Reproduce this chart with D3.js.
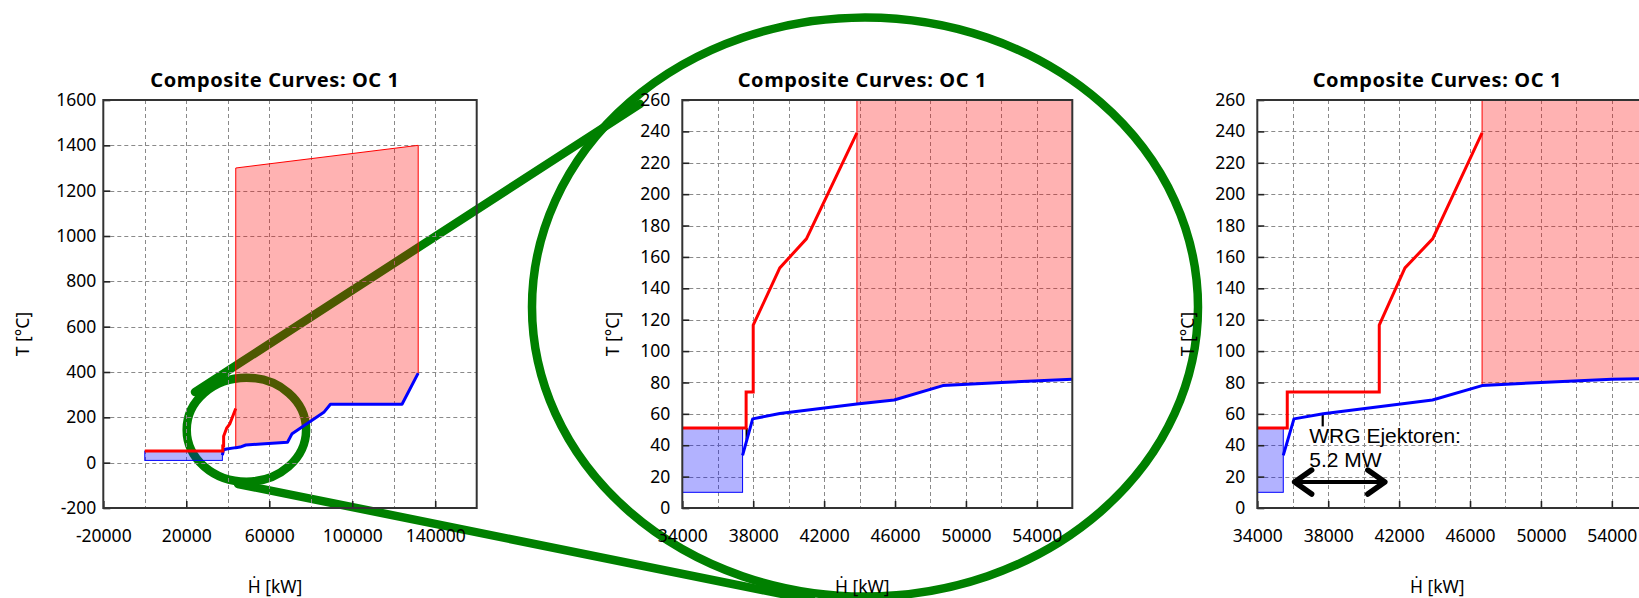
<!DOCTYPE html>
<html>
<head>
<meta charset="utf-8">
<script src="https://cdn.jsdelivr.net/npm/d3@7"></script>
<style>
  html, body { margin: 0; padding: 0; background: #fff; }
  svg { display: block; font-family: "Noto Sans", "DejaVu Sans", sans-serif; }
</style>
</head>
<body>
<svg id="fig" width="1639" height="598"></svg>
<script>
// ---------------- data ----------------
const titleText = "Composite Curves: OC 1";
const xLabelText = "Ḣ [kW]";
const yLabelText = "T [°C]";

// Operating case 1: hot and cold composite curves (heat flow in kW, temperature in °C)
const hotH  = [0, 37600, 37600, 38000, 38000, 39500, 41000, 43850];
const hotT  = [51, 51, 74, 74, 116.5, 153, 171.5, 239];
const coldH = [37400, 37970, 39500, 43850, 45950, 48700, 52000, 56000, 68800, 71000, 86500, 89500, 124000, 131800];
const coldT = [33.5, 56.8, 60.2, 66.3, 68.8, 78, 80, 82, 90, 128, 224, 258, 258, 395];
// hot utility band (upper edge) and cold utility block
const hotUtilH  = [43850, 131800];
const hotUtilT  = [1300, 1400];
const coldUtilH = [0, 37400];
const coldUtilT = [10, 51];
// pinch marker
const pinchH = [37630, 37630];
const pinchT = [51, 43.5];

// Operating case 1 with ejector heat recovery
const hotRecH  = [0, 35690, 35690, 40880, 40880, 42330, 43890, 46680];
const hotRecT  = [51, 51, 74, 74, 116.5, 153, 171.5, 239];
const coldRecH = [35465, 36068, 37718, 43882, 46680, 50000, 54000, 58000];
const coldRecT = [33.5, 56.8, 60.1, 68.8, 78, 80, 82, 83];
const hotUtilRecH  = [46680, 134630];
const hotUtilRecT  = [1300, 1400];
const coldUtilRecH = [0, 35465];
const coldUtilRecT = [10, 51];
const leaderH = [37690, 37690];
const leaderT = [60, 52];
const recoveryH = [36050, 41250];   // 5.2 MW
const recoveryT = 16.5;
const recoveryLabel = ["WRG Ejektoren:", "5.2 MW"];
const recoveryLabelH = 36930;
const recoveryLabelT = [41.6, 25.9];

// axis ticks
const fullXTicks = [-20000, 20000, 60000, 100000, 140000];
const fullXGrid  = [0, 20000, 40000, 60000, 80000, 100000, 120000, 140000];
const fullYTicks = [-200, 0, 200, 400, 600, 800, 1000, 1200, 1400, 1600];
const zoomXTicks = [34000, 38000, 42000, 46000, 50000, 54000];
const zoomXGrid  = [36000, 38000, 40000, 42000, 44000, 46000, 48000, 50000, 52000, 54000];
const zoomYTicks = [0, 20, 40, 60, 80, 100, 120, 140, 160, 180, 200, 220, 240, 260];

// ---------------- layout ----------------
const svg = d3.select("#fig");
const PLOT_TOP = 100, PLOT_BOTTOM = 508;
const CALLOUT = "#008000";
const FONT = '"Noto Sans", "DejaVu Sans", sans-serif';
const plainNumber = d => String(d);

// magnifier callout (drawn underneath the charts)
const callout = svg.append("g").attr("fill", "none").attr("stroke", CALLOUT)
  .attr("stroke-width", 8.5).attr("stroke-linecap", "round");
callout.append("ellipse").attr("cx", 246.4).attr("cy", 429.7).attr("rx", 59.7).attr("ry", 52);
callout.append("ellipse").attr("cx", 865).attr("cy", 307).attr("rx", 333).attr("ry", 289.5);
callout.append("line").attr("x1", 195).attr("y1", 392).attr("x2", 640).attr("y2", 104);
callout.append("line").attr("x1", 238).attr("y1", 484).attr("x2", 812).attr("y2", 600);

const zip = (xs, ys) => xs.map((v, i) => [v, ys[i]]);

function drawPanel(id, cfg) {
  const x = d3.scaleLinear().domain(cfg.xDomain).range(cfg.xRange);
  const y = d3.scaleLinear().domain(cfg.yDomain).range([PLOT_BOTTOM, PLOT_TOP]);
  const g = svg.append("g");
  const [x0, x1] = cfg.xRange;

  svg.append("clipPath").attr("id", "clip-" + id)
    .append("rect").attr("x", x0).attr("y", PLOT_TOP)
    .attr("width", x1 - x0).attr("height", PLOT_BOTTOM - PLOT_TOP);

  // grid
  const grid = g.append("g").attr("stroke", "#8a8a8a").attr("stroke-width", 1)
    .attr("stroke-dasharray", "4,3");
  grid.selectAll(".gx").data(cfg.xGrid).join("line")
    .attr("x1", d => Math.round(x(d)) + 0.5).attr("x2", d => Math.round(x(d)) + 0.5)
    .attr("y1", PLOT_TOP).attr("y2", PLOT_BOTTOM);
  grid.selectAll(".gy").data(cfg.yTicks.slice(1, -1)).join("line")
    .attr("y1", d => Math.round(y(d)) + 0.5).attr("y2", d => Math.round(y(d)) + 0.5)
    .attr("x1", x0).attr("x2", x1);

  const plot = g.append("g").attr("clip-path", `url(#clip-${id})`);
  const line = d3.line().x(d => x(d[0])).y(d => y(d[1]));

  // cold utility block
  const cu = cfg.coldUtil;
  plot.append("rect")
    .attr("x", x(cu.h[0])).attr("y", y(cu.t[1]))
    .attr("width", x(cu.h[1]) - x(cu.h[0])).attr("height", y(cu.t[0]) - y(cu.t[1]))
    .attr("fill", "rgba(0,0,255,0.3)").attr("stroke", "#0000ff").attr("stroke-width", 1);

  // hot utility band: upper edge then back along the cold composite curve
  const hu = cfg.hotUtil;
  const cold = zip(cfg.cold.h, cfg.cold.t);
  const below = cold.filter(d => d[0] >= hu.h[0] && d[0] <= hu.h[1]).reverse();
  const band = [[hu.h[0], hu.t[0]], [hu.h[1], hu.t[1]], ...below];
  plot.append("path").attr("d", line(band) + "Z")
    .attr("fill", "rgba(255,0,0,0.3)").attr("stroke", "#ff0000").attr("stroke-width", 1);

  // pinch / leader marker
  plot.append("path").attr("d", line(zip(cfg.marker.h, cfg.marker.t)))
    .attr("stroke", "#000").attr("stroke-width", 2.2).attr("fill", "none");

  // composite curves
  plot.append("path").attr("d", line(cold))
    .attr("fill", "none").attr("stroke", "#0000ff").attr("stroke-width", 3)
    .attr("stroke-linejoin", "round");
  plot.append("path").attr("d", line(zip(cfg.hot.h, cfg.hot.t)))
    .attr("fill", "none").attr("stroke", "#ff0000").attr("stroke-width", 3)
    .attr("stroke-linejoin", "miter");

  // axes
  const ax = g.append("g").attr("transform", `translate(0,${PLOT_BOTTOM})`)
    .call(d3.axisBottom(x).tickValues(cfg.xTicks).tickFormat(plainNumber)
      .tickSizeInner(-7).tickSizeOuter(0).tickPadding(22));
  const ay = g.append("g").attr("transform", `translate(${x0},0)`)
    .call(d3.axisLeft(y).tickValues(cfg.yTicks).tickFormat(plainNumber)
      .tickSizeInner(-7).tickSizeOuter(0).tickPadding(cfg.yPad));
  [ax, ay].forEach(a => {
    a.select(".domain").remove();
    a.attr("font-family", null).attr("font-size", null);
    a.selectAll(".tick line").attr("stroke", "#222").attr("stroke-width", 1.6);
    a.selectAll(".tick text").style("font-size", "17.5px")
      .style("font-family", FONT).attr("fill", "#000");
  });

  g.append("rect").attr("x", x0).attr("y", PLOT_TOP)
    .attr("width", x1 - x0).attr("height", PLOT_BOTTOM - PLOT_TOP)
    .attr("fill", "none").attr("stroke", "#333").attr("stroke-width", 2);

  // titles
  const cx = (x0 + x1) / 2 - 15;
  g.append("text").attr("x", cx).attr("y", 87).attr("text-anchor", "middle")
    .style("font-size", "20px").style("font-weight", "bold").style("letter-spacing", "0.6px")
    .text(titleText);
  g.append("text").attr("x", cx).attr("y", 593).attr("text-anchor", "middle")
    .style("font-size", "17.5px").text(xLabelText);
  g.append("text").attr("transform", `translate(${x0 - cfg.yLabelGap},334) rotate(-90)`)
    .attr("text-anchor", "middle").attr("dominant-baseline", "central")
    .style("font-size", "17.5px").text(yLabelText);

  return { x, y, g };
}

drawPanel("full", {
  xDomain: [-20000, 160000], xRange: [103.3, 476.7], yDomain: [-200, 1600],
  xTicks: fullXTicks, xGrid: fullXGrid, yTicks: fullYTicks, yPad: 7, yLabelGap: 81,
  hot: { h: hotH, t: hotT }, cold: { h: coldH, t: coldT },
  hotUtil: { h: hotUtilH, t: hotUtilT }, coldUtil: { h: coldUtilH, t: coldUtilT },
  marker: { h: pinchH, t: pinchT }
});

drawPanel("zoom", {
  xDomain: [34000, 56000], xRange: [682.3, 1072.3], yDomain: [0, 260],
  xTicks: zoomXTicks, xGrid: zoomXGrid, yTicks: zoomYTicks, yPad: 12, yLabelGap: 70.6,
  hot: { h: hotH, t: hotT }, cold: { h: coldH, t: coldT },
  hotUtil: { h: hotUtilH, t: hotUtilT }, coldUtil: { h: coldUtilH, t: coldUtilT },
  marker: { h: pinchH, t: pinchT }
});

const rec = drawPanel("rec", {
  xDomain: [34000, 56000], xRange: [1257.3, 1647.3], yDomain: [0, 260],
  xTicks: zoomXTicks, xGrid: zoomXGrid, yTicks: zoomYTicks, yPad: 12, yLabelGap: 70.6,
  hot: { h: hotRecH, t: hotRecT }, cold: { h: coldRecH, t: coldRecT },
  hotUtil: { h: hotUtilRecH, t: hotUtilRecT }, coldUtil: { h: coldUtilRecH, t: coldUtilRecT },
  marker: { h: leaderH, t: leaderT }
});

// recovered heat annotation
const ya = rec.y(recoveryT);
const xa0 = rec.x(recoveryH[0]), xa1 = rec.x(recoveryH[1]);
const arrow = rec.g.append("g").attr("stroke", "#000").attr("fill", "none")
  .attr("stroke-linecap", "round").attr("stroke-linejoin", "round");
arrow.append("line").attr("x1", xa0 + 2).attr("x2", xa1 - 2).attr("y1", ya).attr("y2", ya)
  .attr("stroke-width", 4);
arrow.append("polyline").attr("stroke-width", 5.5)
  .attr("points", [[xa0 + 18, ya - 12], [xa0 + 1, ya], [xa0 + 18, ya + 12]].join(" "));
arrow.append("polyline").attr("stroke-width", 5.5)
  .attr("points", [[xa1 - 18, ya - 12], [xa1 - 1, ya], [xa1 - 18, ya + 12]].join(" "));

rec.g.selectAll(".reclabel").data(recoveryLabel).join("text")
  .attr("x", rec.x(recoveryLabelH)).attr("y", (d, i) => rec.y(recoveryLabelT[i]))
  .style("font-family", '"Liberation Sans", Arial, sans-serif').style("font-size", "21px")
  .text(d => d);
</script>
</body>
</html>
